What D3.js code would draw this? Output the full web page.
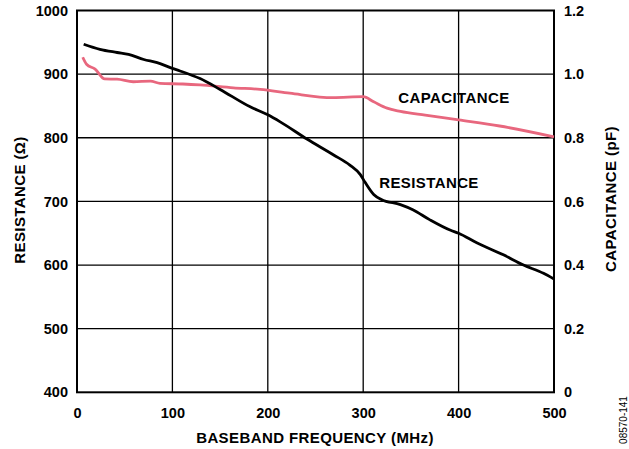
<!DOCTYPE html>
<html><head><meta charset="utf-8">
<script src="https://d3js.org/d3.v7.min.js"></script>
<style>body{margin:0;background:#fff}svg{display:block}</style>
</head><body><svg id="c" width="629" height="449"></svg>
<script>
const xTicks = [0, 100, 200, 300, 400, 500];
const resTicks = [400, 500, 600, 700, 800, 900, 1000];
const capTicks = [0, 0.2, 0.4, 0.6, 0.8, 1.0, 1.2];
const capTickLabels = ["0", "0.2", "0.4", "0.6", "0.8", "1.0", "1.2"];

const resFreq = [7, 24, 42, 54, 70, 84, 100, 108, 129, 150, 181, 200, 213, 241, 269, 286, 297, 302, 311, 319, 339, 352, 370, 391, 400, 419, 447, 468, 489, 500];
const resVal  = [947, 939, 934, 931, 923, 918, 909, 905, 893, 876, 849, 836, 825, 798, 773, 757, 742, 730, 711, 703, 695, 687, 671, 655, 650, 635, 616, 600, 587, 578];

const capFreq = [6, 10, 19, 29, 42, 59, 77, 87, 111, 129, 164, 192, 223, 268, 300, 311, 325, 339, 365, 400, 443, 500];
const capVal  = [1.053, 1.031, 1.016, 0.985, 0.984, 0.976, 0.978, 0.971, 0.969, 0.966, 0.957, 0.952, 0.940, 0.926, 0.929, 0.913, 0.893, 0.883, 0.871, 0.856, 0.837, 0.803];

const svg = d3.select("#c");
const L = 77, R = 554, T = 10.5, B = 392.3;
const x = d3.scaleLinear().domain([0, 500]).range([L, R]);
const yR = d3.scaleLinear().domain([400, 1000]).range([B, T]);
const yC = d3.scaleLinear().domain([0, 1.2]).range([B, T]);
const font = "'Liberation Sans', Arial, sans-serif";

// grid
const g = svg.append("g");
g.selectAll(".vx").data(xTicks.slice(1, -1)).enter().append("line")
  .attr("x1", d => x(d)).attr("x2", d => x(d)).attr("y1", T).attr("y2", B)
  .attr("stroke", "#000").attr("stroke-width", 1.3);
g.selectAll(".hy").data(resTicks.slice(1, -1)).enter().append("line")
  .attr("y1", d => yR(d)).attr("y2", d => yR(d)).attr("x1", L).attr("x2", R)
  .attr("stroke", "#000").attr("stroke-width", 1.3);
g.append("rect").attr("x", L).attr("y", T).attr("width", R - L).attr("height", B - T)
  .attr("fill", "none").attr("stroke", "#000").attr("stroke-width", 2);

// axes labels via d3 axes
const ax = svg.append("g").attr("transform", `translate(0,${B})`)
  .call(d3.axisBottom(x).tickValues(xTicks).tickSize(0).tickPadding(15));
const ayL = svg.append("g").attr("transform", `translate(${L},0)`)
  .call(d3.axisLeft(yR).tickValues(resTicks).tickSize(0).tickPadding(9).tickFormat(d3.format("d")));
const ayR = svg.append("g").attr("transform", `translate(${R},0)`)
  .call(d3.axisRight(yC).tickValues(capTicks).tickSize(0).tickPadding(10).tickFormat((d, i) => capTickLabels[i]));
[ax, ayL, ayR].forEach(a => {
  a.select(".domain").remove();
  a.selectAll("text").attr("font-family", font).attr("font-size", 14.5).attr("font-weight", "bold").attr("fill", "#000");
});
ax.selectAll("text").attr("dy", "0.71em");

// lines
const resData = resFreq.map((f, i) => [f, resVal[i]]);
const capData = capFreq.map((f, i) => [f, capVal[i]]);
svg.append("path").datum(capData)
  .attr("d", d3.line().x(d => x(d[0])).y(d => yC(d[1])).curve(d3.curveMonotoneX))
  .attr("fill", "none").attr("stroke", "#e8677e").attr("stroke-width", 2.8);
svg.append("path").datum(resData)
  .attr("d", d3.line().x(d => x(d[0])).y(d => yR(d[1])).curve(d3.curveMonotoneX))
  .attr("fill", "none").attr("stroke", "#000").attr("stroke-width", 2.8);

// annotations
function txt(t, px, py, size, weight, rot, ls) {
  const e = svg.append("text").text(t).attr("font-family", font).attr("font-size", size)
    .attr("font-weight", weight).attr("text-anchor", "middle").attr("dominant-baseline", "central")
    .attr("letter-spacing", ls || 0).attr("fill", "#000");
  if (rot) e.attr("transform", `translate(${px},${py}) rotate(${rot})`);
  else e.attr("x", px).attr("y", py);
  return e;
}
txt("CAPACITANCE", 454, 97, 15, "bold", 0, 0.4);
txt("RESISTANCE", 429, 182, 15, "bold", 0, 0.4);
txt("BASEBAND FREQUENCY (MHz)", 315, 437, 15, "bold", 0, 0.4);
txt("RESISTANCE (Ω)", 19, 200, 15, "bold", -90, 0.4);
txt("CAPACITANCE (pF)", 610, 199, 15, "bold", -90, 0.4);
txt("08570-141", 623, 420, 10, "normal", -90);
</script></body></html>
